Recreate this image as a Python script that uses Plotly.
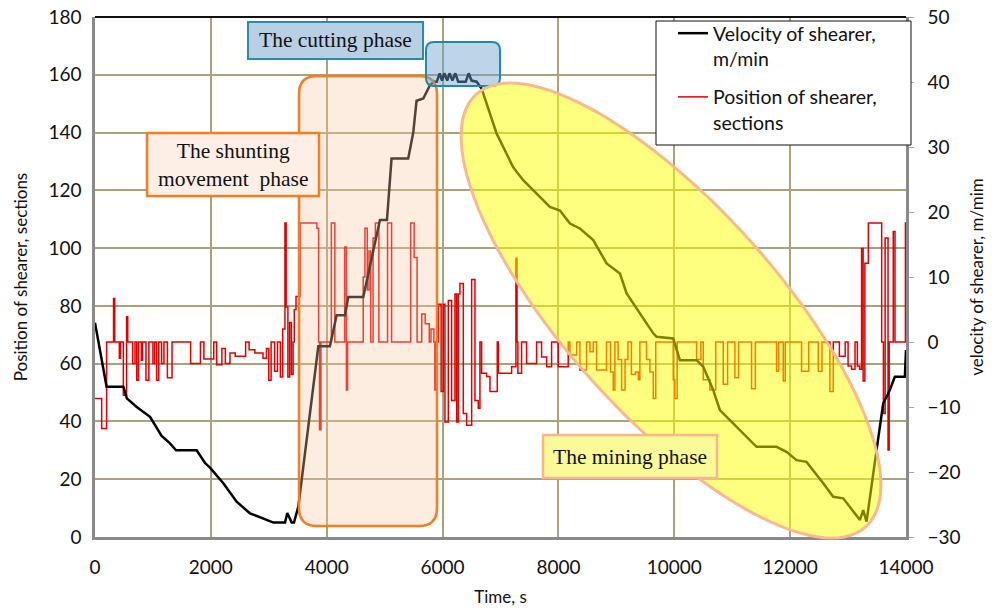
import math
import plotly.graph_objects as go

# ---------------- data ----------------
# black series (left axis, 0..180)
black_time = [0, 200, 490, 550, 720, 950, 1150, 1290, 1400, 1755, 1900, 1985, 2215, 2445, 2675,
              2905, 3080, 3280, 3320, 3395, 3435, 3510, 3855, 4055, 4171, 4315, 4372, 4631, 4919,
              5040, 5080, 5119, 5407, 5494, 5551, 5667, 5782, 5850, 5900, 5950, 5990, 6030, 6080,
              6120, 6170, 6220, 6270, 6400, 6450, 6500, 6588, 6674, 6932, 7219, 7392, 7565, 7853,
              8026, 8199, 8371, 8601, 8831, 9062, 9177, 9407, 9637, 9694, 9982, 10097, 10385,
              10500, 10672, 10787, 10902, 11075, 11420, 11765, 11937, 12110, 12283, 12571, 12744,
              12916, 13204, 13261, 13319, 13491, 13606, 13721, 13808, 13981, 14000]
black_value = [74.2, 52, 52, 48, 45, 41.6, 35, 32.5, 30, 30, 25.6, 24, 18.6, 12.2, 8.2,
               6.5, 5, 5, 8.3, 5, 5, 10.5, 66, 66, 76.8, 76.8, 83.1, 83.1, 109.7,
               109.7, 121, 131, 131, 140, 151, 151.8, 156.4, 157.6, 157.6, 160.5, 158, 160.5, 158,
               160.5, 158, 160.5, 157.6, 157.6, 160.5, 158, 157.6, 155.2, 139.7, 128, 123.5, 120, 114.3,
               113, 108.5, 106.8, 102.8, 94.7, 91.2, 84.3, 77.4, 70.5, 69.3, 68.7, 61.2, 61.2,
               58.9, 50.9, 43.9, 41.6, 38.2, 31.2, 31.2, 29.5, 26.6, 26, 18.6, 13.9,
               13.4, 5.9, 9.3, 5.3, 30, 46.2, 50.9, 55.5, 55.5, 64.7]

# red series (right axis, -30..50), step-wise
red_time = [0, 115, 200, 320, 340, 420, 440, 489, 545, 565, 650, 690, 720, 750, 800, 820, 880, 930,
            1000, 1030, 1064, 1100, 1150, 1190, 1250, 1330, 1650, 1820, 1880, 2050, 2100, 2190,
            2250, 2330, 2420, 2600, 2660, 2760, 2900, 2960, 3000, 3040, 3100, 3150, 3200, 3240,
            3279, 3300, 3330, 3360, 3390, 3420, 3440, 3470, 3540, 3830, 3860, 3876, 3900, 4080,
            4140, 4310, 4340, 4360, 4630, 4660, 4700, 4730, 4760, 4800, 4840, 4900, 5050, 5120,
            5450, 5510, 5560, 5640, 5700, 5770, 5800, 5850, 5867, 5890, 5926, 5975, 6012, 6041,
            6099, 6156, 6214, 6243, 6271, 6300, 6358, 6415, 6502, 6559, 6616, 6645, 6674, 6760,
            6818, 6944, 6962, 7192, 7266, 7285, 7300, 7364, 7450, 7623, 7709, 7796, 7882, 7997,
            8169, 8198, 8314, 8371, 8486, 8544, 8601, 8659, 8830, 8900, 8946, 8975, 9030, 9090,
            9150, 9200, 9260, 9330, 9380, 9406, 9520, 9579, 9637, 9680, 9982, 10010, 10050,
            10385, 10460, 10500, 10615, 10715, 10845, 10920, 11046, 11110, 11334, 11400, 11765,
            11800, 11881, 11915, 12197, 12320, 12485, 12550, 12686, 12744, 12850, 12950, 13000,
            13060, 13120, 13160, 13200, 13233, 13260, 13290, 13350, 13580, 13610, 13640, 13690,
            13710, 13780, 13810, 13990, 14000]
red_value = [-8.7, -13.3, 0, 6.7, 0, -2.5, 0, -8.2, 3.9, 0, -3.3, 0, -5.9, 0, -2.8, 0, -5.9, 0,
             -3.3, 0, -5.9, 0, -3.3, 0, -5.5, 0, -3.3, 0, -2.6, 0, -3.5, -1,
             -3.3, -1.7, -2.2, 0, -1.2, -1.7, -2.5, -1, -5.9, 0, -4.5, 0, -5.4, 2,
             18.3, 5.4, -5.4, 3, -5.0, 0, 5, 7, 18.3, 17.5, 0, -13.5, 0, 18.3,
             0, 14.6, -7.4, 0, 10, 17.5, 8, 14, 0, 16, 18.3, 0, 18.3, 0,
             18.3, 13, 0, 4.3, 2.8, 0, 2, 0, -7.4, 0, 5.8, -7.6, 5.8, -12.3,
             6.4, -9, 7.4, -12.3, 7.4, 9.0, -11, -12.8, 9.6, -9, -10.2, 0, -4.8, -5.3,
             -7.6, 0, -4.8, -3.8, 12.9, 0, -4.8, 0, -3.3, 0, -2.3, -3.8, 0, -3.8,
             0, -2, 0, -4.3, 0, -1.5, 0, -4.3, 0, -4.6, -7.4, 0, -2.7, -7.4,
             -2.7, 0, -5.0, -4.6, -5.8, 0, -2.7, -4.6, -8.7, 0, -5.8, -8.7, 0,
             -2.7, 0, -5.8, -7.4, 0, -6.5, 0, -5.5, 0, -7.2, 0, -4.5,
             0, -6, 0, -4.5, 0, -4.5, 0, -7.6, 0, -2.2, 0, -3.7,
             -4.2, 0, -3.7, -4.2, 14.4, -6, 12.1, 18.3, 0, -11, 16, -16.6,
             0, 17, 0, 18.3, 18.3]

x_ticks = [0, 2000, 4000, 6000, 8000, 10000, 12000, 14000]
left_ticks = [0, 20, 40, 60, 80, 100, 120, 140, 160, 180]
right_ticks = [-30, -20, -10, 0, 10, 20, 30, 40, 50]

# ---------------- layout geometry ----------------
W, H = 997, 614
PL, PR, PT, PB = 95, 906, 17, 537   # wanted plot area in page pixels


def px(xp):
    return (xp - PL) / (PR - PL)


def py(yp):
    return (PB - yp) / (PB - PT)


def rounded_rect(x0, y0, x1, y1, r):
    pts = []
    def add(cmd, a, b):
        pts.append(f"{cmd} {px(a):.5f},{py(b):.5f}")
    if r <= 0:
        add("M", x0, y0); add("L", x1, y0); add("L", x1, y1); add("L", x0, y1)
        return " ".join(pts) + " Z"
    add("M", x0 + r, y0)
    add("L", x1 - r, y0)
    pts.append(f"Q {px(x1):.5f},{py(y0):.5f} {px(x1):.5f},{py(y0 + r):.5f}")
    add("L", x1, y1 - r)
    pts.append(f"Q {px(x1):.5f},{py(y1):.5f} {px(x1 - r):.5f},{py(y1):.5f}")
    add("L", x0 + r, y1)
    pts.append(f"Q {px(x0):.5f},{py(y1):.5f} {px(x0):.5f},{py(y1 - r):.5f}")
    add("L", x0, y0 + r)
    pts.append(f"Q {px(x0):.5f},{py(y0):.5f} {px(x0 + r):.5f},{py(y0):.5f}")
    return " ".join(pts) + " Z"


def ellipse_path(cx, cy, a, b, theta_deg, n=120):
    th = math.radians(theta_deg)
    parts = []
    for i in range(n):
        t = 2 * math.pi * i / n
        xx = cx + a * math.cos(t) * math.cos(th) - b * math.sin(t) * math.sin(th)
        yy = cy + a * math.cos(t) * math.sin(th) + b * math.sin(t) * math.cos(th)
        parts.append(("M" if i == 0 else "L") + f" {px(xx):.5f},{py(yy):.5f}")
    return " ".join(parts) + " Z"


fig = go.Figure()

fig.add_trace(go.Scatter(
    x=red_time, y=red_value, mode="lines", line_shape="hv",
    name="Position of shearer,<br>sections", legendgroup="b", legendrank=2,
    line=dict(color="#e00000", width=1.5), yaxis="y"))

fig.add_trace(go.Scatter(
    x=black_time, y=black_value, mode="lines",
    name="Velocity of shearer,<br>m/min", legendgroup="a", legendrank=1,
    line=dict(color="#000000", width=2.5), yaxis="y2"))

grid_col = "#aaa27a"
tick_font = dict(family="Lato", size=19, color="#111111")
title_font = dict(family="Lato", size=17, color="#111111")


def box(x0, y0, x1, y1, fill, edge, lw):
    return dict(type="path", xref="paper", yref="paper", layer="above",
                path=rounded_rect(x0, y0, x1, y1, 0),
                fillcolor=fill, line=dict(color=edge, width=lw))


shapes = [
    # shunting phase region
    dict(type="path", xref="paper", yref="paper", layer="above",
         path=rounded_rect(299, 76, 437, 526, 18),
         fillcolor="rgba(250,200,165,0.33)", line=dict(color="#f77b1f", width=2.5)),
    # cutting phase region
    dict(type="path", xref="paper", yref="paper", layer="above",
         path=rounded_rect(426, 42, 500, 86, 8),
         fillcolor="rgba(110,160,205,0.45)", line=dict(color="#1f8aa6", width=2)),
    # mining phase ellipse
    dict(type="path", xref="paper", yref="paper", layer="above",
         path=ellipse_path(671, 310.5, 291, 105.5, 48),
         fillcolor="rgba(255,255,0,0.5)", line=dict(color="#f9b98e", width=3)),
    # label boxes
    box(248, 22, 423, 59, "#b9cfe4", "#2a8ca6", 2),
    box(147, 133, 319, 196, "#fdefe5", "#f77b1f", 2.5),
    box(543, 435, 717, 478, "#fafa98", "#f8b68c", 2.5),
    # top frame line
    dict(type="line", xref="paper", yref="paper", x0=0, x1=1, y0=1, y1=1,
         line=dict(color="#111111", width=2), layer="above"),
    # legend box
    dict(type="rect", xref="paper", yref="paper", layer="above",
         x0=px(656), x1=px(911), y0=py(145), y1=py(21),
         fillcolor="white", line=dict(color="#111111", width=1)),
]

serif = dict(family="Liberation Serif", size=21.5, color="#111111")
annotations = [
    dict(xref="paper", yref="paper", x=px(335.5), y=py(40.5), showarrow=False,
         text="The cutting phase", font=serif, xanchor="center", yanchor="middle"),
    dict(xref="paper", yref="paper", x=px(233), y=py(164.5), showarrow=False,
         text="The shunting<br>movement  phase", font=serif,
         xanchor="center", yanchor="middle"),
    dict(xref="paper", yref="paper", x=px(630), y=py(456.5), showarrow=False,
         text="The mining phase", font=serif, xanchor="center", yanchor="middle"),
]

fig.update_layout(
    width=W, height=H,
    margin=dict(l=PL, r=W - PR, t=PT, b=H - PB, pad=0, autoexpand=False),
    paper_bgcolor="white", plot_bgcolor="white",
    showlegend=True,
    legend=dict(x=px(673), y=py(14), xanchor="left", yanchor="top",
                bgcolor="rgba(0,0,0,0)", borderwidth=0,
                font=dict(family="Lato", size=19.5, color="#111111"),
                traceorder="grouped", tracegroupgap=10, valign="top",
                itemwidth=30),
    xaxis=dict(range=[0, 14000], tickvals=x_ticks, ticktext=[str(v) for v in x_ticks],
               showgrid=True, gridcolor=grid_col, gridwidth=1.5, automargin=False,
               showline=True, linecolor="#8a8a8a", linewidth=2.5, ticks="",
               tickfont=tick_font, ticklabelstandoff=11, zeroline=False,
               title=dict(text="Time, s", font=title_font, standoff=15)),
    yaxis=dict(range=[-30, 50], tickvals=right_ticks, side="right", automargin=False,
               showgrid=False, zeroline=False,
               showline=True, linecolor="#8a8a8a", linewidth=2.5,
               ticks="outside", ticklen=5, tickcolor="#aaaaaa", tickwidth=1,
               tickfont=tick_font, ticklabelstandoff=10,
               title=dict(text="velocity of shearer, m/mim", font=title_font, standoff=12)),
    yaxis2=dict(range=[0, 180], tickvals=left_ticks, side="left", overlaying="y",
                automargin=False,
                showgrid=True, gridcolor=grid_col, gridwidth=1.5, zeroline=False,
                showline=True, linecolor="#8a8a8a", linewidth=2.5, ticks="",
                tickfont=tick_font, ticklabelstandoff=7,
                title=dict(text="Position of shearer, sections", font=title_font, standoff=17)),
    shapes=shapes,
    annotations=annotations,
)

fig.write_html("out.html",
               config={"displayModeBar": False},
               post_script="document.body.style.margin='0px';"
                           "document.body.style.overflow='hidden';")
